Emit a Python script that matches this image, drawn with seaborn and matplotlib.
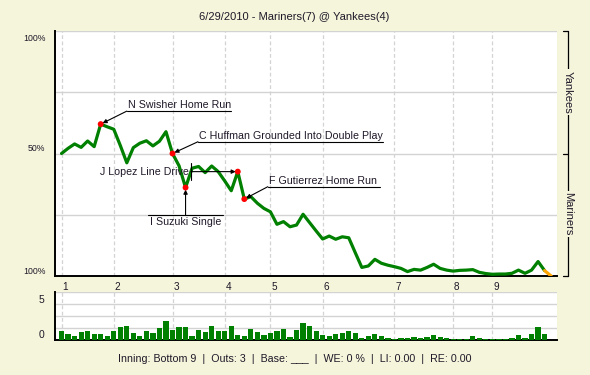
import numpy as np
import pandas as pd
import matplotlib
matplotlib.use("Agg")
import matplotlib.pyplot as plt
import seaborn as sns

# ---------------- data ----------------
title = "6/29/2010 - Mariners(7) @ Yankees(4)"
status = "Inning: Bottom 9  |  Outs: 3  |  Base: ___  |  WE: 0 %  |  LI: 0.00  |  RE: 0.00"

# Yankees win expectancy after each plate appearance (0 = Mariners win)
win_exp = [0.500, 0.521, 0.539, 0.525, 0.551, 0.528, 0.620, 0.609, 0.599, 0.533,
           0.462, 0.524, 0.542, 0.552, 0.531, 0.550, 0.589, 0.500, 0.450, 0.361,
           0.440, 0.447, 0.422, 0.449, 0.426, 0.388, 0.348, 0.426, 0.314, 0.324,
           0.297, 0.276, 0.262, 0.211, 0.222, 0.201, 0.208, 0.252, 0.218, 0.184,
           0.151, 0.163, 0.150, 0.160, 0.156, 0.095, 0.035, 0.041, 0.068, 0.052,
           0.044, 0.038, 0.031, 0.018, 0.027, 0.024, 0.035, 0.048, 0.031, 0.024,
           0.020, 0.023, 0.024, 0.026, 0.015, 0.010, 0.007, 0.008, 0.008, 0.011,
           0.024, 0.011, 0.024, 0.059, 0.022, 0.000]

# leverage of each plate appearance (bar chart)
leverage = [0.75, 0.50, 0.33, 0.67, 0.75, 0.50, 0.50, 0.33, 0.75, 1.08,
            1.17, 0.58, 0.33, 0.75, 0.58, 1.00, 1.58, 0.83, 1.08, 1.08,
            0.33, 0.83, 0.67, 1.17, 0.75, 0.75, 1.17, 0.42, 0.33, 0.92,
            0.67, 0.42, 0.58, 0.75, 0.92, 0.25, 0.83, 1.42, 1.17, 0.75,
            0.42, 0.33, 0.50, 0.58, 0.75, 0.58, 0.17, 0.33, 0.50, 0.33,
            0.17, 0.08, 0.17, 0.17, 0.25, 0.17, 0.25, 0.42, 0.25, 0.17,
            0.08, 0.08, 0.08, 0.33, 0.17, 0.08, 0.08, 0.08, 0.08, 0.17,
            0.42, 0.17, 0.50, 1.08, 0.50]

inning_labels = ["1", "2", "3", "4", "5", "6", "7", "8", "9"]
inning_start = [0, 8, 17, 25, 32, 40, 51, 60, 66]

event_idx = [6, 17, 19, 27, 28]
event_text = ["N Swisher Home Run", "C Huffman Grounded Into Double Play",
              "I Suzuki Single", "J Lopez Line Drive", "F Gutierrez Home Run"]

left_labels = ["100%", "50%", "100%"]
team_labels = ["Yankees", "Mariners"]
bar_labels = ["5", "0"]

# ---------------- style ----------------
BG = "#F5F5DC"
GREEN = "#008000"
GRID = "#D3D3D3"
TXT = "#201828"

sns.set_theme(style="white")
plt.rcParams["font.family"] = ["Liberation Sans", "DejaVu Sans"]

df = pd.DataFrame({"pa": np.arange(len(win_exp)), "we": win_exp})
bars = pd.DataFrame({"pa": np.arange(len(leverage)), "li": leverage})
ev = df.iloc[event_idx]

fig = plt.figure(figsize=(5.9, 3.75), dpi=100, facecolor=BG)
ax = fig.add_axes([55 / 590, 99 / 375, 502 / 590, 245 / 375])
ax2 = fig.add_axes([55 / 590, 35 / 375, 502 / 590, 48 / 375])
XL = (-1.0, 75.9)

for a in (ax, ax2):
    a.set_facecolor("white")
    for s in ("top", "right"):
        a.spines[s].set_visible(False)
    for s in ("left", "bottom"):
        a.spines[s].set_color("black")
        a.spines[s].set_linewidth(1.4)
    for x in inning_start:
        a.axvline(x, color=GRID, lw=0.9, ls=(0, (3, 2)), zorder=0)

# ---------- main chart ----------
for y in (0.25, 0.5, 0.75, 1.0):
    ax.axhline(y, color=GRID, lw=1.0, zorder=0)

sns.lineplot(data=df.iloc[:-1], x="pa", y="we", color=GREEN, lw=2.3, ax=ax,
             legend=False, zorder=3)
sns.lineplot(data=df.iloc[-2:], x="pa", y="we", color="#FFA500", lw=2.3, ax=ax,
             legend=False, zorder=3)
sns.scatterplot(data=ev, x="pa", y="we", color="red", s=18, edgecolor="none",
                ax=ax, zorder=5, legend=False)

ax.set_xlim(*XL)
ax.set_ylim(0, 1)
ax.set_xticks([])
ax.set_yticks([0.973, 0.525, 0.022])
ax.set_yticklabels(left_labels, fontsize=6.3, color=TXT)
ax.tick_params(axis="y", length=0, pad=7)
ax.set_xlabel("")
ax.set_ylabel("")

arrow = dict(arrowstyle="-|>", color="black", lw=0.8, mutation_scale=6,
             shrinkA=0, shrinkB=1.5)
fs_ann = 7.7

def underline_note(i, text, x0, x1, yl):
    px, py = df.pa[i], df.we[i]
    ax.plot([x0, x1], [yl, yl], color="black", lw=0.8, zorder=4)
    ax.annotate("", xy=(px, py), xytext=(x0, yl), arrowprops=arrow, zorder=4)
    ax.text(x0 + 0.2, yl + 0.004, text, ha="left", va="bottom", fontsize=fs_ann,
            color=TXT, zorder=4)

underline_note(event_idx[0], event_text[0], 10.0, 26.0, 0.673)
underline_note(event_idx[1], event_text[1], 20.9, 49.3, 0.548)
underline_note(event_idx[4], event_text[4], 31.6, 48.8, 0.3645)

# I Suzuki: overline below, vertical arrow up
i = event_idx[2]
xs, ys = df.pa[i], df.we[i]
ax.plot([13.25, 24.8], [0.249, 0.249], color="black", lw=0.8, zorder=4)
ax.annotate("", xy=(xs, ys), xytext=(xs, 0.249), arrowprops=arrow, zorder=4)
ax.text(xs, 0.241, event_text[2], ha="center", va="top", fontsize=fs_ann,
        color=TXT, zorder=4)

# J Lopez: vertical bar, horizontal arrow right to point
i = event_idx[3]
xs, ys = df.pa[i], df.we[i]
ax.plot([19.8, 19.8], [0.392, 0.461], color="black", lw=0.8, zorder=4)
ax.annotate("", xy=(xs, ys), xytext=(19.8, ys), arrowprops=arrow, zorder=4)
ax.text(19.45, ys, event_text[3], ha="right", va="center", fontsize=fs_ann,
        color=TXT, zorder=4)

# right-hand team bracket
xl = (568 - 55) / 502
xt = (563 - 55) / 502
ax.plot([xl, xl], [0, 1], transform=ax.transAxes, clip_on=False, color="black", lw=0.9)
for y in (0, 0.5, 1):
    ax.plot([xt, xl], [y, y], transform=ax.transAxes, clip_on=False,
            color="black", lw=0.9)
for y, lab in zip((0.751, 0.253), team_labels):
    ax.text(xl, y, lab, rotation=270, ha="center", va="center", fontsize=8,
            color=TXT, transform=ax.transAxes,
            bbox=dict(facecolor=BG, edgecolor="none", pad=1.0))

# ---------- leverage bars ----------
sns.barplot(data=bars, x="pa", y="li", color=GREEN, saturation=1, width=0.8,
            errorbar=None, ax=ax2, zorder=3, edgecolor="none", linewidth=0)
for y in (1, 2, 3, 4):
    ax2.axhline(y, color=GRID, lw=1.0, zorder=0)
ax2.set_xlim(*XL)
ax2.set_ylim(0, 4)
ax2.set_xticks([])
ax2.set_yticks([3.42, 0.54])
ax2.set_yticklabels(bar_labels, fontsize=7.5, color=TXT)
ax2.tick_params(axis="y", length=0, pad=8)
ax2.set_xlabel("")
ax2.set_ylabel("")

tr = matplotlib.transforms.blended_transform_factory(ax2.transData, ax2.transAxes)
for x, lab in zip(inning_start, inning_labels):
    ax2.text(x + 0.1, 1.04, lab, transform=tr, ha="left", va="baseline",
             fontsize=7.2, color=TXT)

# ---------- texts ----------
fig.text(0.499, 0.955, title, ha="center", va="center", fontsize=8, color=TXT)
fig.text(0.499, 0.043, status, ha="center", va="center", fontsize=7.7, color=TXT)

fig.savefig("out.png", dpi=100, facecolor=BG)
